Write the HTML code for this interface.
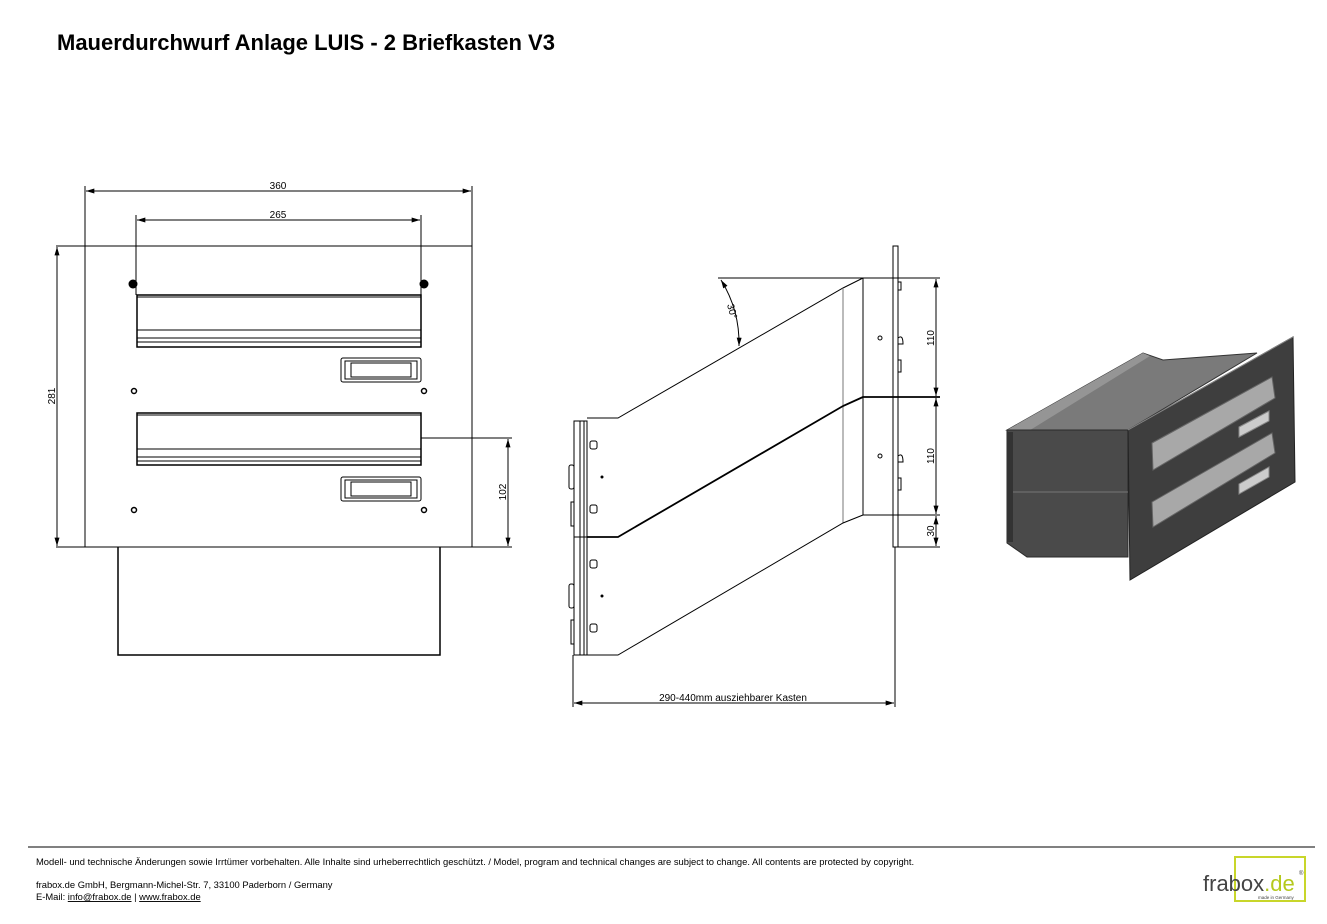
<!DOCTYPE html>
<html><head><meta charset="utf-8"><style>
html,body{margin:0;padding:0;background:#fff;}
svg{display:block;}
text{font-family:"Liberation Sans",sans-serif;}
</style></head><body>
<svg width="1327" height="924" viewBox="0 0 1327 924" xmlns="http://www.w3.org/2000/svg">
<defs>
<marker id="a" viewBox="0 0 10 6" refX="10" refY="3" markerWidth="9" markerHeight="5" orient="auto-start-reverse"><path d="M0,0 L10,3 L0,6z" fill="#000"/></marker>
</defs>
<text x="57" y="50" font-size="22" font-weight="bold" fill="#000">Mauerdurchwurf Anlage LUIS - 2 Briefkasten V3</text>

<!-- FRONT VIEW -->
<g stroke="#000" fill="none" stroke-width="1">
<rect x="85" y="246" width="387" height="301"/>
<line x1="56" y1="246" x2="472" y2="246"/>
<line x1="56" y1="547" x2="512" y2="547"/>
<line x1="85" y1="186" x2="85" y2="246"/><line x1="472" y1="186" x2="472" y2="246"/>
<line x1="86" y1="191" x2="471" y2="191" marker-start="url(#a)" marker-end="url(#a)"/>
<line x1="136" y1="215" x2="136" y2="295"/><line x1="421" y1="215" x2="421" y2="295"/>
<line x1="137" y1="220" x2="420" y2="220" marker-start="url(#a)" marker-end="url(#a)"/>
<line x1="57" y1="247" x2="57" y2="546" marker-start="url(#a)" marker-end="url(#a)"/>
<line x1="421" y1="438" x2="512" y2="438"/>
<line x1="508" y1="439" x2="508" y2="546" marker-start="url(#a)" marker-end="url(#a)"/>
<rect x="137" y="295" width="284" height="52" stroke-width="1.5"/>
<line x1="137" y1="297" x2="421" y2="297"/>
<line x1="137" y1="330" x2="421" y2="330"/><line x1="137" y1="338" x2="421" y2="338"/><line x1="137" y1="342" x2="421" y2="342"/>
<rect x="341" y="358" width="80" height="24" rx="2"/><rect x="345" y="361" width="72" height="18"/><rect x="351" y="363" width="60" height="14"/>
<rect x="137" y="413" width="284" height="52" stroke-width="1.5"/>
<line x1="137" y1="415" x2="421" y2="415"/>
<line x1="137" y1="449" x2="421" y2="449"/><line x1="137" y1="457" x2="421" y2="457"/><line x1="137" y1="461" x2="421" y2="461"/>
<rect x="341" y="477" width="80" height="24" rx="2"/><rect x="345" y="480" width="72" height="18"/><rect x="351" y="482" width="60" height="14"/>
<circle cx="134" cy="391" r="2.5" stroke-width="1.5"/><circle cx="424" cy="391" r="2.5" stroke-width="1.5"/>
<circle cx="134" cy="510" r="2.5" stroke-width="1.5"/><circle cx="424" cy="510" r="2.5" stroke-width="1.5"/>
<polyline points="118,547 118,655 440,655 440,547" stroke-width="1.5"/>
</g>
<circle cx="133" cy="284" r="4.5" fill="#000"/><circle cx="424" cy="284" r="4.5" fill="#000"/>
<g font-size="10" fill="#000">
<text x="278" y="189" text-anchor="middle">360</text>
<text x="278" y="218" text-anchor="middle">265</text>
<text transform="translate(55,396) rotate(-90)" text-anchor="middle">281</text>
<text transform="translate(506,492) rotate(-90)" text-anchor="middle">102</text>
</g>

<!-- SIDE VIEW -->
<g stroke="#000" fill="none" stroke-width="1">
<rect x="893" y="246" width="5" height="301"/>
<line x1="718" y1="278" x2="940" y2="278"/>
<polyline points="863,278 843,288 618,418 587,418"/>
<line x1="863" y1="278" x2="863" y2="515"/>
<line x1="843" y1="288" x2="843" y2="523" stroke="#777"/>
<polyline points="863,397 843,406 618,537 587,537" stroke-width="1.8"/>
<polyline points="863,515 843,523 618,655 587,655"/>
<line x1="863" y1="397" x2="940" y2="397" stroke-width="1.8"/>
<line x1="863" y1="515" x2="940" y2="515"/>
<line x1="898" y1="547" x2="940" y2="547"/>
<line x1="936" y1="279" x2="936" y2="396" marker-start="url(#a)" marker-end="url(#a)"/>
<line x1="936" y1="398" x2="936" y2="514" marker-start="url(#a)" marker-end="url(#a)"/>
<line x1="936" y1="516" x2="936" y2="546" marker-start="url(#a)" marker-end="url(#a)"/>
<rect x="574" y="421" width="13" height="234"/>
<line x1="580" y1="421" x2="580" y2="655"/><line x1="584" y1="421" x2="584" y2="655"/>
<line x1="574" y1="537" x2="587" y2="537"/>
<rect x="569" y="465" width="5" height="24" rx="2"/><rect x="569" y="584" width="5" height="24" rx="2"/>
<rect x="571" y="502" width="3" height="24"/><rect x="571" y="620" width="3" height="24"/>
<rect x="590" y="441" width="7" height="8" rx="2"/><rect x="590" y="505" width="7" height="8" rx="2"/>
<rect x="590" y="560" width="7" height="8" rx="2"/><rect x="590" y="624" width="7" height="8" rx="2"/>
<circle cx="880" cy="338" r="2"/><circle cx="880" cy="456" r="2"/>
<path d="M898,282 h3 v8 h-3 M898,338 q5,-4 5,6 h-5 M898,360 h3 v12 h-3 M898,456 q5,-4 5,6 h-5 M898,478 h3 v12 h-3"/>
<line x1="573" y1="655" x2="573" y2="707"/><line x1="895" y1="547" x2="895" y2="707"/>
<line x1="574" y1="703" x2="894" y2="703" marker-start="url(#a)" marker-end="url(#a)"/>
<path d="M721,280 A120,120 0 0 1 739,346" marker-start="url(#a)" marker-end="url(#a)"/>
</g>
<circle cx="602" cy="477" r="1.5" fill="#000"/><circle cx="602" cy="596" r="1.5" fill="#000"/>
<g font-size="10" fill="#000">
<text transform="translate(934,338) rotate(-90)" text-anchor="middle">110</text>
<text transform="translate(934,456) rotate(-90)" text-anchor="middle">110</text>
<text transform="translate(934,531) rotate(-90)" text-anchor="middle">30</text>
<text transform="translate(729,312) rotate(75)" text-anchor="middle">30°</text>
<text x="733" y="701" text-anchor="middle" font-family="Liberation Mono,monospace" font-size="10">290-440mm ausziehbarer Kasten</text>
</g>

<!-- 3D VIEW -->
<polygon points="1007,430 1143,353 1163,360 1257,353 1128,430" fill="#7a7a7a" stroke="#333"/>
<polygon points="1007,430 1143,353 1150,356 1027,432" fill="#959595"/>
<polygon points="1007,430 1128,430 1128,557 1027,557 1007,543" fill="#4a4a4a" stroke="#2a2a2a"/>
<line x1="1007" y1="492" x2="1128" y2="492" stroke="#777"/>
<rect x="1007" y="432" width="6" height="110" fill="#333"/>
<polygon points="1128,430 1293,337 1295,482 1130,580" fill="#3e3e3e" stroke="#222"/>
<line x1="1128" y1="430" x2="1293" y2="337" stroke="#888"/>
<polygon points="1152,443 1272,377 1275,398 1153,470" fill="#a8a8a8" stroke="#666"/>
<polygon points="1152,502 1272,433 1275,453 1153,527" fill="#a8a8a8" stroke="#666"/>
<polygon points="1239,427 1269,411 1269,421 1239,437" fill="#ccc" stroke="#888"/>
<polygon points="1239,484 1269,467 1269,477 1239,494" fill="#ccc" stroke="#888"/>

<!-- FOOTER -->
<line x1="28" y1="847" x2="1315" y2="847" stroke="#000"/>
<g font-size="9.4" fill="#000">
<text x="36" y="865">Modell- und technische Änderungen sowie Irrtümer vorbehalten. Alle Inhalte sind urheberrechtlich geschützt. / Model, program and technical changes are subject to change. All contents are protected by copyright.</text>
<text x="36" y="888">frabox.de GmbH, Bergmann-Michel-Str. 7, 33100 Paderborn / Germany</text>
<text x="36" y="900">E-Mail: <tspan text-decoration="underline">info@frabox.de</tspan> | <tspan text-decoration="underline">www.frabox.de</tspan></text>
</g>
<rect x="1235" y="857" width="70" height="44" fill="none" stroke="#c8d62a" stroke-width="2"/>
<text x="1203" y="891" font-size="22" fill="#444">frabox<tspan fill="#b5c91e">.de</tspan></text>
<text x="1299" y="875" font-size="6" fill="#444">®</text>
<text x="1258" y="899" font-size="4.5" fill="#444">made in Germany</text>
</svg>
</body></html>
